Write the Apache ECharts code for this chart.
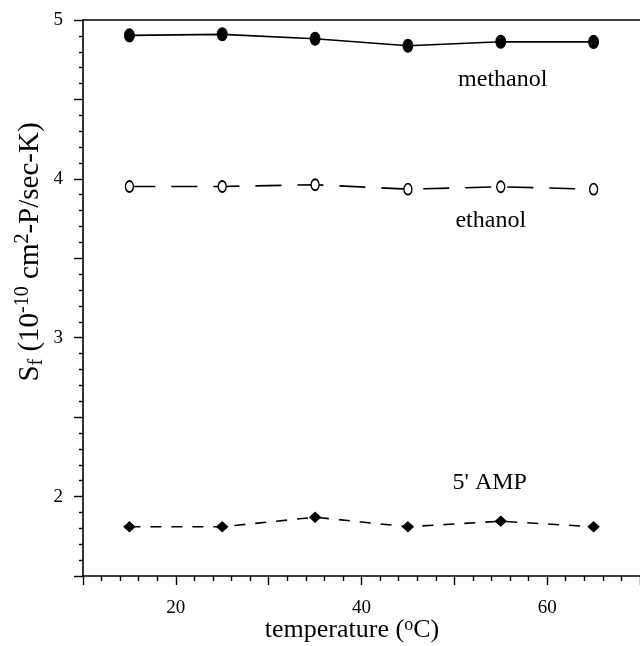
<!DOCTYPE html>
<html>
<head>
<meta charset="utf-8">
<script src="https://cdn.jsdelivr.net/npm/echarts@6/dist/echarts.min.js"></script>
<style>html,body{margin:0;padding:0;background:#fff}#c{width:640px;height:646px}</style>
</head>
<body>
<div id="c"></div>
<script>
const temperatures = [15, 25, 35, 45, 55, 65];
const methanol = [4.903, 4.910, 4.882, 4.838, 4.863, 4.862];
const ethanol = [3.952, 3.952, 3.963, 3.935, 3.950, 3.935];
const amp5 = [1.810, 1.810, 1.870, 1.810, 1.845, 1.810];
const seriesNames = ['methanol', 'ethanol', "5' AMP"];
const xLabelsShown = [20, 40, 60];
const yLabelsShown = [2, 3, 4, 5];

const FONT = '"Liberation Serif", "DejaVu Serif", serif';
const chart = echarts.init(document.getElementById('c'), null, {renderer: 'canvas'});

function pairs(vals) { return temperatures.map((t, i) => [t, vals[i]]); }
function withLabel(vals, name, offset) {
  return pairs(vals).map((p, i) => i === 4 ? {
    value: p,
    label: {show: true, formatter: name, position: 'inside', offset: offset,
      color: '#000', fontFamily: FONT, fontSize: 24, align: 'center', verticalAlign: 'middle'}
  } : {value: p});
}

const option = {
  animation: false,
  backgroundColor: '#fff',
  grid: {left: 83, right: 0, top: 20, bottom: 70, containLabel: false, outerBoundsMode: 'none'},
  xAxis: [{
    type: 'value', min: 10, max: 70, interval: 10, position: 'bottom',
    axisLine: {show: true, onZero: false, lineStyle: {color: '#000', width: 1.6}},
    axisTick: {show: true, inside: false, length: 9, lineStyle: {color: '#000', width: 1.4}},
    minorTick: {show: true, splitNumber: 5, length: 5, lineStyle: {color: '#000', width: 1.4}},
    splitLine: {show: false},
    axisLabel: {margin: 23, color: '#000', fontFamily: FONT, fontSize: 19,
      formatter: v => xLabelsShown.includes(v) ? String(v) : ''}
  }, {
    type: 'value', min: 10, max: 70, position: 'top',
    axisLine: {show: true, onZero: false, lineStyle: {color: '#000', width: 1.6}},
    axisTick: {show: false}, axisLabel: {show: false}, splitLine: {show: false}
  }],
  yAxis: {
    type: 'value', min: 1.5, max: 5, interval: 0.5,
    axisLine: {show: true, onZero: false, lineStyle: {color: '#000', width: 1.6}},
    axisTick: {show: true, inside: false, length: 9, lineStyle: {color: '#000', width: 1.4}},
    minorTick: {show: true, splitNumber: 5, length: 4, lineStyle: {color: '#000', width: 1.4}},
    splitLine: {show: false},
    axisLabel: {margin: 20, color: '#000', fontFamily: FONT, fontSize: 19,
      formatter: v => yLabelsShown.some(y => Math.abs(y - v) < 1e-9) ? String(Math.round(v)) : ''}
  },
  graphic: [{
    type: 'text', x: 30, y: 252, rotation: Math.PI / 2,
    style: {
      text: '{t|S}{sub|f}{t| (10}{sup|-10}{t| cm}{sup|2}{t|-P/sec-K)}',
      align: 'center', verticalAlign: 'middle',
      rich: {
        t: {fontFamily: FONT, fontSize: 29, fill: '#000', lineHeight: 34},
        sub: {fontFamily: FONT, fontSize: 20, fill: '#000', lineHeight: 34, verticalAlign: 'bottom'},
        sup: {fontFamily: FONT, fontSize: 20, fill: '#000', lineHeight: 34, verticalAlign: 'top'}
      }
    }
  }, {
    type: 'text', x: 352, y: 630,
    style: {
      text: '{t|temperature (}{s|o}{t|C)}',
      align: 'center', verticalAlign: 'middle',
      rich: {
        t: {fontFamily: FONT, fontSize: 26, fill: '#000', lineHeight: 28},
        s: {fontFamily: FONT, fontSize: 18, fill: '#000', lineHeight: 28, verticalAlign: 'top'}
      }
    }
  }],
  series: [{
    name: seriesNames[0], type: 'line', data: withLabel(methanol, seriesNames[0], [2, 38]),
    symbol: 'circle', symbolSize: [10, 13], showAllSymbol: true,
    lineStyle: {color: '#000', width: 1.7},
    itemStyle: {color: '#000', borderColor: '#000'}
  }, {
    name: seriesNames[1], type: 'line', data: withLabel(ethanol, seriesNames[1], [-10, 34]),
    symbol: 'circle', symbolSize: [8, 11], showAllSymbol: true,
    lineStyle: {color: '#000', width: 1.6, type: [26, 16]},
    itemStyle: {color: '#fff', borderColor: '#000', borderWidth: 1.6}
  }, {
    name: seriesNames[2], type: 'line', data: withLabel(amp5, seriesNames[2], [-11, -38]),
    symbol: 'diamond', symbolSize: [11, 10], showAllSymbol: true,
    lineStyle: {color: '#000', width: 1.6, type: [11, 10]},
    itemStyle: {color: '#000', borderColor: '#000'}
  }]
};
chart.setOption(option);
</script>
</body>
</html>
